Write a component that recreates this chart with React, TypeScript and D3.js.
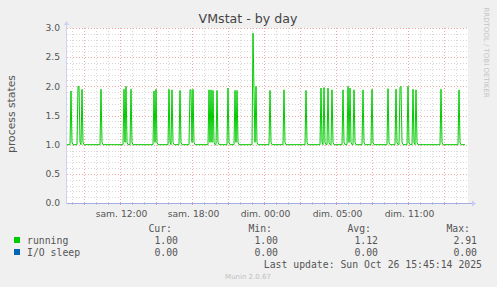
import React from "react";
import * as d3 from "d3";

// ---- data ----
// time in hours relative to "sam. 12:00"; one sample = 5 minutes
const startHour = -4.42;
const sampleCount = 399;
const baseline = 1.0;
const spikeHours = [
  -4.05, -3.54, -3.44, -3.17, -1.55, 0.33, 0.53, 0.92, 2.83, 2.98, 4.08, 4.33,
  5.0, 5.83, 5.95, 6.12, 7.39, 7.58, 7.78, 8.08, 9.0, 9.56, 9.75, 11.08, 11.2,
  11.31, 12.5, 13.7, 15.48, 16.75, 17.0, 17.37, 17.67, 18.56, 19.03, 19.14,
  19.5, 20.28, 21.02, 22.33, 23.0, 23.37, 23.45, 24.0, 24.42, 24.67, 26.72,
  28.25,
];
const spikePeaks = [
  1.92, 2.0, 2.0, 1.95, 1.95, 1.95, 2.0, 1.95, 1.92, 1.95, 1.95, 1.94,
  1.93, 1.94, 1.94, 1.95, 1.94, 1.94, 1.93, 1.93, 1.97, 1.93, 1.93, 2.91, 1.93,
  2.0, 1.93, 1.94, 1.93, 1.97, 1.98, 1.97, 1.94, 1.94, 2.0, 1.97,
  1.94, 1.94, 1.95, 1.96, 1.95, 1.98, 2.0, 2.0, 1.95, 1.94, 1.95,
  1.94,
];
const spikeTail = 1.04;

const majorGridHours = [-3, 0, 3, 6, 9, 12, 15, 18, 21, 24, 27];
const minorGridHours = d3.range(-4, 29, 1);
const xLabelHours = [0, 6, 12, 18, 24];
const xLabels = ["sam. 12:00", "sam. 18:00", "dim. 00:00", "dim. 05:00", "dim. 11:00"];
const yTicks = [0, 0.5, 1.0, 1.5, 2.0, 2.5, 3.0];
const yMinor = d3.range(0, 3.01, 0.1);

const legendNames = ["running", "I/O sleep"];
const legendColors = ["#00CC00", "#0066B3"];
const legendCur = ["1.00", "0.00"];
const legendMin = ["1.00", "0.00"];
const legendAvg = ["1.12", "0.00"];
const legendMax = ["2.91", "0.00"];

export default function App() {
  const W = 497, H = 287;
  const left = 67, right = 468, top = 28, bottom = 203;
  const x = d3.scaleLinear().domain([startHour, startHour + 401 / 12]).range([left, right]);
  const y = d3.scaleLinear().domain([0, 3]).range([bottom, top]);

  // build 5-minute sample series from baseline + spikes
  const values: number[] = new Array(sampleCount).fill(baseline);
  spikeHours.forEach((h, k) => {
    const i = Math.round((h - startHour) * 12);
    if (i >= 0 && i < sampleCount) values[i] = Math.max(values[i], spikePeaks[k]);
    if (i + 1 < sampleCount && values[i + 1] === baseline) values[i + 1] = spikeTail;
  });
  const pts: [number, number][] = values.map((v, i) => [startHour + i / 12, v]);
  const line = d3.line<[number, number]>().x((d) => x(d[0])).y((d) => y(d[1]));

  const mono = "'DejaVu Sans Mono', monospace";
  const sans = "'DejaVu Sans', sans-serif";
  const txt = "#555";
  const axisColor = "#a4aee6";
  const cols = [
    { head: "Cur:", hx: 172, vx: 178, vals: legendCur },
    { head: "Min:", hx: 272, vx: 278, vals: legendMin },
    { head: "Avg:", hx: 371, vx: 378, vals: legendAvg },
    { head: "Max:", hx: 470, vx: 477, vals: legendMax },
  ];

  return (
    <svg width={W} height={H} style={{ position: "absolute", left: 0, top: 0, display: "block" }}>
      <rect width={W} height={H} fill="#F0F0F0" />
      <rect x={left} y={top} width={right - left} height={bottom - top} fill="#FFFFFF" />
      {/* minor grid */}
      {yMinor.map((v, i) => (
        <line key={"ym" + i} x1={left} x2={right} y1={Math.round(y(v)) + 0.5} y2={Math.round(y(v)) + 0.5}
          stroke="#d8d8d8" strokeDasharray="1,2" />
      ))}
      {minorGridHours.map((h, i) => (
        <line key={"xm" + i} x1={Math.round(x(h)) + 0.5} x2={Math.round(x(h)) + 0.5} y1={top} y2={bottom}
          stroke="#d8d8d8" strokeDasharray="1,2" />
      ))}
      {/* major grid */}
      {yTicks.map((v, i) => (
        <line key={"yM" + i} x1={left} x2={right} y1={Math.round(y(v)) + 0.5} y2={Math.round(y(v)) + 0.5}
          stroke="#f0a8a8" strokeDasharray="1,2" />
      ))}
      {majorGridHours.map((h, i) => (
        <line key={"xM" + i} x1={Math.round(x(h)) + 0.5} x2={Math.round(x(h)) + 0.5} y1={top} y2={bottom}
          stroke="#f0a8a8" strokeDasharray="1,2" />
      ))}
      {/* x ticks */}
      {minorGridHours.map((h, i) => (
        <line key={"xt" + i} x1={Math.round(x(h)) + 0.5} x2={Math.round(x(h)) + 0.5} y1={bottom - 1} y2={bottom + 2}
          stroke="#c8c8c8" />
      ))}
      {majorGridHours.map((h, i) => (
        <line key={"xT" + i} x1={Math.round(x(h)) + 0.5} x2={Math.round(x(h)) + 0.5} y1={bottom - 1} y2={bottom + 2}
          stroke="#f09090" />
      ))}
      {/* data line */}
      <path d={line(pts) || ""} fill="none" stroke="#00CC00" strokeWidth={1} />
      {/* axes */}
      <line x1={left - 0.5} x2={472} y1={bottom + 0.5} y2={bottom + 0.5} stroke={axisColor} strokeWidth={1} />
      <path d={`M472,${bottom - 2.5} L476,${bottom + 0.5} L472,${bottom + 3.5} Z`} fill="#c8ccf4" />
      <line x1={left - 0.5} x2={left - 0.5} y1={bottom + 0.5} y2={24} stroke="#d0d4f4" strokeWidth={1} />
      <path d={`M${left - 3.5},25 L${left - 0.5},21 L${left + 2.5},25 Z`} fill="#d0d4f4" />
      {/* y labels */}
      {yTicks.map((v, i) => (
        <text key={"yl" + i} x={60} y={y(v) + 3.3} textAnchor="end" fontFamily={sans} fontSize={9.2} fill={txt}>
          {v.toFixed(1)}
        </text>
      ))}
      {/* x labels */}
      {xLabelHours.map((h, i) => (
        <text key={"xl" + i} x={x(h) + 1.5} y={216.5} textAnchor="middle" fontFamily={sans} fontSize={9.2} fill={txt}>
          {xLabels[i]}
        </text>
      ))}
      {/* title */}
      <text x={248} y={22.5} textAnchor="middle" fontFamily={sans} fontSize={12.6} fill="#444">
        VMstat - by day
      </text>
      <text transform="translate(14.5,114) rotate(-90)" textAnchor="middle" fontFamily={sans} fontSize={10.8} fill={txt}>
        process states
      </text>
      <text transform="translate(484,52.5) rotate(90)" textAnchor="middle" fontFamily={sans} fontSize={7} fill="#c4c4c4">
        RRDTOOL / TOBI OETIKER
      </text>
      {/* legend */}
      {cols.map((c, i) => (
        <text key={"h" + i} x={c.hx} y={231.5} textAnchor="end" fontFamily={mono} fontSize={9.8} fill={txt}>
          {c.head}
        </text>
      ))}
      {legendNames.map((n, r) => (
        <g key={"lg" + r}>
          <rect x={14} y={237 + r * 12} width={6} height={6} fill={legendColors[r]} />
          <text x={27} y={243.5 + r * 12} fontFamily={mono} fontSize={9.8} fill={txt}>{n}</text>
          {cols.map((c, i) => (
            <text key={"v" + i} x={c.vx} y={243.5 + r * 12} textAnchor="end" fontFamily={mono} fontSize={9.8} fill={txt}>
              {c.vals[r]}
            </text>
          ))}
        </g>
      ))}
      <text x={482} y={267.5} textAnchor="end" fontFamily={mono} fontSize={9.8} fill={txt}>
        Last update: Sun Oct 26 15:45:14 2025
      </text>
      <text x={248} y={279} textAnchor="middle" fontFamily={sans} fontSize={7} fill="#c0c0c0">
        Munin 2.0.67
      </text>
    </svg>
  );
}
